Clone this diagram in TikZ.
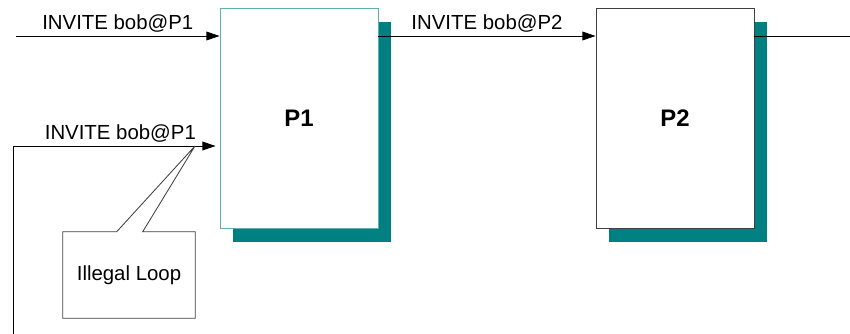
\documentclass[tikz,border=0pt]{standalone}
\usepackage{fontspec}
\setmainfont{Liberation Sans}
\usetikzlibrary{arrows.meta,shadows}
\definecolor{shadowteal}{HTML}{008080}
\definecolor{edgeteal}{HTML}{5FAFAF}
\definecolor{edgegray}{HTML}{404040}
\tikzset{
  proxy/.style={rectangle, draw=#1, line width=0.6pt, fill=white, minimum width=3.95cm, minimum height=5.5cm,
    font=\fontsize{17}{20}\selectfont\bfseries,
    drop shadow={shadow xshift=3.3mm, shadow yshift=-3.5mm, fill=shadowteal, opacity=1}},
  msg/.style={-{Triangle[length=3.3mm,width=2.2mm]}, line width=0.6pt},
  wire/.style={line width=0.6pt},
  lbl/.style={above, inner sep=2.5pt, font=\fontsize{14.5}{17}\selectfont},
  note/.style={rectangle, minimum width=3.3cm, minimum height=2.15cm, font=\fontsize{14.5}{17}\selectfont},
  noteline/.style={draw=edgegray, line width=0.6pt, line join=miter}
}

\begin{document}
\begin{tikzpicture}[x=0.025cm, y=-0.025cm]
  \useasboundingbox (0,0) rectangle (850,334);
  \node[proxy=edgeteal] (P1) at (299,118) {P1};
  \node[proxy=edgegray] (P2) at (675,118) {P2};
  \coordinate (inA) at (16,36);
  \coordinate (outB) at (850,36);
  \draw[msg] (inA) -- node[lbl] {INVITE bob@P1} (inA -| P1.west);
  \draw[msg] (P1.east |- inA) -- node[lbl] {INVITE bob@P2} (inA -| P2.west);
  \draw[wire] (P2.east |- outB) -- (outB);
  % request coming back round to P1
  \coordinate (loopstart) at (13,334);
  \coordinate (loopturn) at (13,146);
  \draw[msg] (loopstart) -- (loopturn) -- node[lbl, pos=0.53] {INVITE bob@P1} ([xshift=-1mm]loopturn -| P1.west);
  % callout pointing at the looped request
  \coordinate (looptip) at (195,146);
  \node[note] (loopnote) at (129,275) {Illegal Loop};
  \draw[noteline] (loopnote.north west) -- ([xshift=13.5mm]loopnote.north west) -- (looptip)
    -- ([xshift=20mm]loopnote.north west) -- (loopnote.north east) -- (loopnote.south east)
    -- (loopnote.south west) -- cycle;
\end{tikzpicture}
\end{document}
